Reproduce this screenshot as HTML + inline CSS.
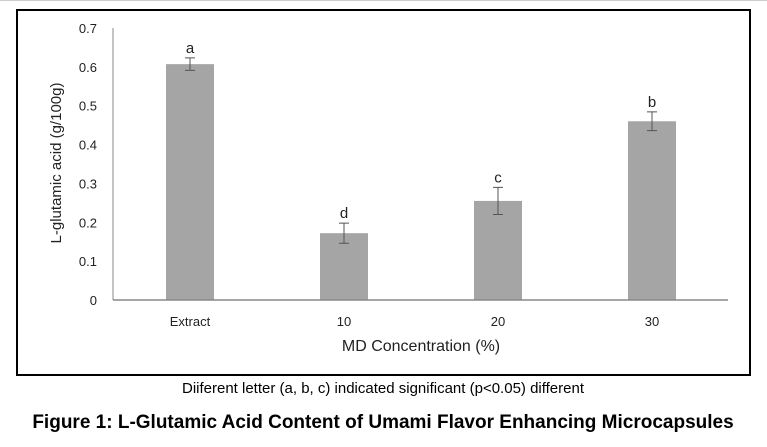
<!DOCTYPE html>
<html><head><meta charset="utf-8"><style>
html,body{margin:0;padding:0;background:#fff;}
body{width:767px;height:442px;overflow:hidden;font-family:"Liberation Sans",sans-serif;}
</style></head><body>
<svg width="767" height="442" xmlns="http://www.w3.org/2000/svg">
<line x1="0" y1="0.5" x2="767" y2="0.5" stroke="#ccc"/>
<rect x="17" y="10" width="733" height="365" fill="#fff" stroke="#000" stroke-width="2"/>
<g id="chart"></g>
<text x="383" y="393" text-anchor="middle" font-size="15" fill="#000">Diiferent letter (a, b, c) indicated significant (p&lt;0.05) different</text>
<text x="383" y="428" text-anchor="middle" font-size="19" font-weight="bold" fill="#000">Figure 1: L-Glutamic Acid Content of Umami Flavor Enhancing Microcapsules</text>
</svg>
<script>
const categories = ["Extract","10","20","30"];
const values = [0.607,0.172,0.255,0.46];
const errors = [0.016,0.026,0.035,0.024];
const letters = ["a","d","c","b"];
const yTicks = [0,0.1,0.2,0.3,0.4,0.5,0.6,0.7];

const NS="http://www.w3.org/2000/svg";
const g=document.getElementById('chart');
const x0=113,x1=728,y0=300,yTop=28,yMax=0.7;
const y=v=>y0-(v/yMax)*(y0-yTop);
const band=154, firstC=190, bw=48;
const xc=i=>firstC+i*band;
function mk(t,a){const e=document.createElementNS(NS,t);for(const k in a)e.setAttribute(k,a[k]);g.appendChild(e);return e;}

let e=mk('line',{x1:x0,y1:yTop,x2:x0,y2:y0,stroke:'#888','stroke-width':1});


yTicks.forEach(t=>{
  const l=mk('text',{x:97,y:y(t)+5,'text-anchor':'end','font-size':13,fill:'#222'});
  l.textContent=t===0?'0':String(t);
  
  
});
categories.forEach((c,i)=>{
  const r=mk('rect',{x:xc(i)-bw/2,y:y(values[i]),width:bw,height:y0-y(values[i]),fill:'#a5a5a5'});
  
  
  const hi=y(values[i]+errors[i]),lo=y(values[i]-errors[i]);
  const eb=mk('path',{d:`M${xc(i)},${hi}V${lo}M${xc(i)-5},${hi}H${xc(i)+5}M${xc(i)-5},${lo}H${xc(i)+5}`,stroke:'#555','stroke-width':1,fill:'none'});
  
  
  const lt=mk('text',{x:xc(i),y:hi-5,'text-anchor':'middle','font-size':15,fill:'#222'});
  lt.textContent=letters[i];
  
  
  const xl=mk('text',{x:xc(i),y:326,'text-anchor':'middle','font-size':13,fill:'#222'});
  xl.textContent=c;
  
  
});
e=mk('line',{x1:x0,y1:y0,x2:x1,y2:y0,stroke:'#888','stroke-width':1.5});


e=mk('text',{x:421,y:351,'text-anchor':'middle','font-size':16,fill:'#222'});
e.textContent='MD Concentration (%)';


e=mk('text',{x:0,y:0,'text-anchor':'middle','font-size':15,fill:'#222',transform:'translate(61,163) rotate(-90)'});
e.textContent='L-glutamic acid (g/100g)';


</script>
</body></html>
